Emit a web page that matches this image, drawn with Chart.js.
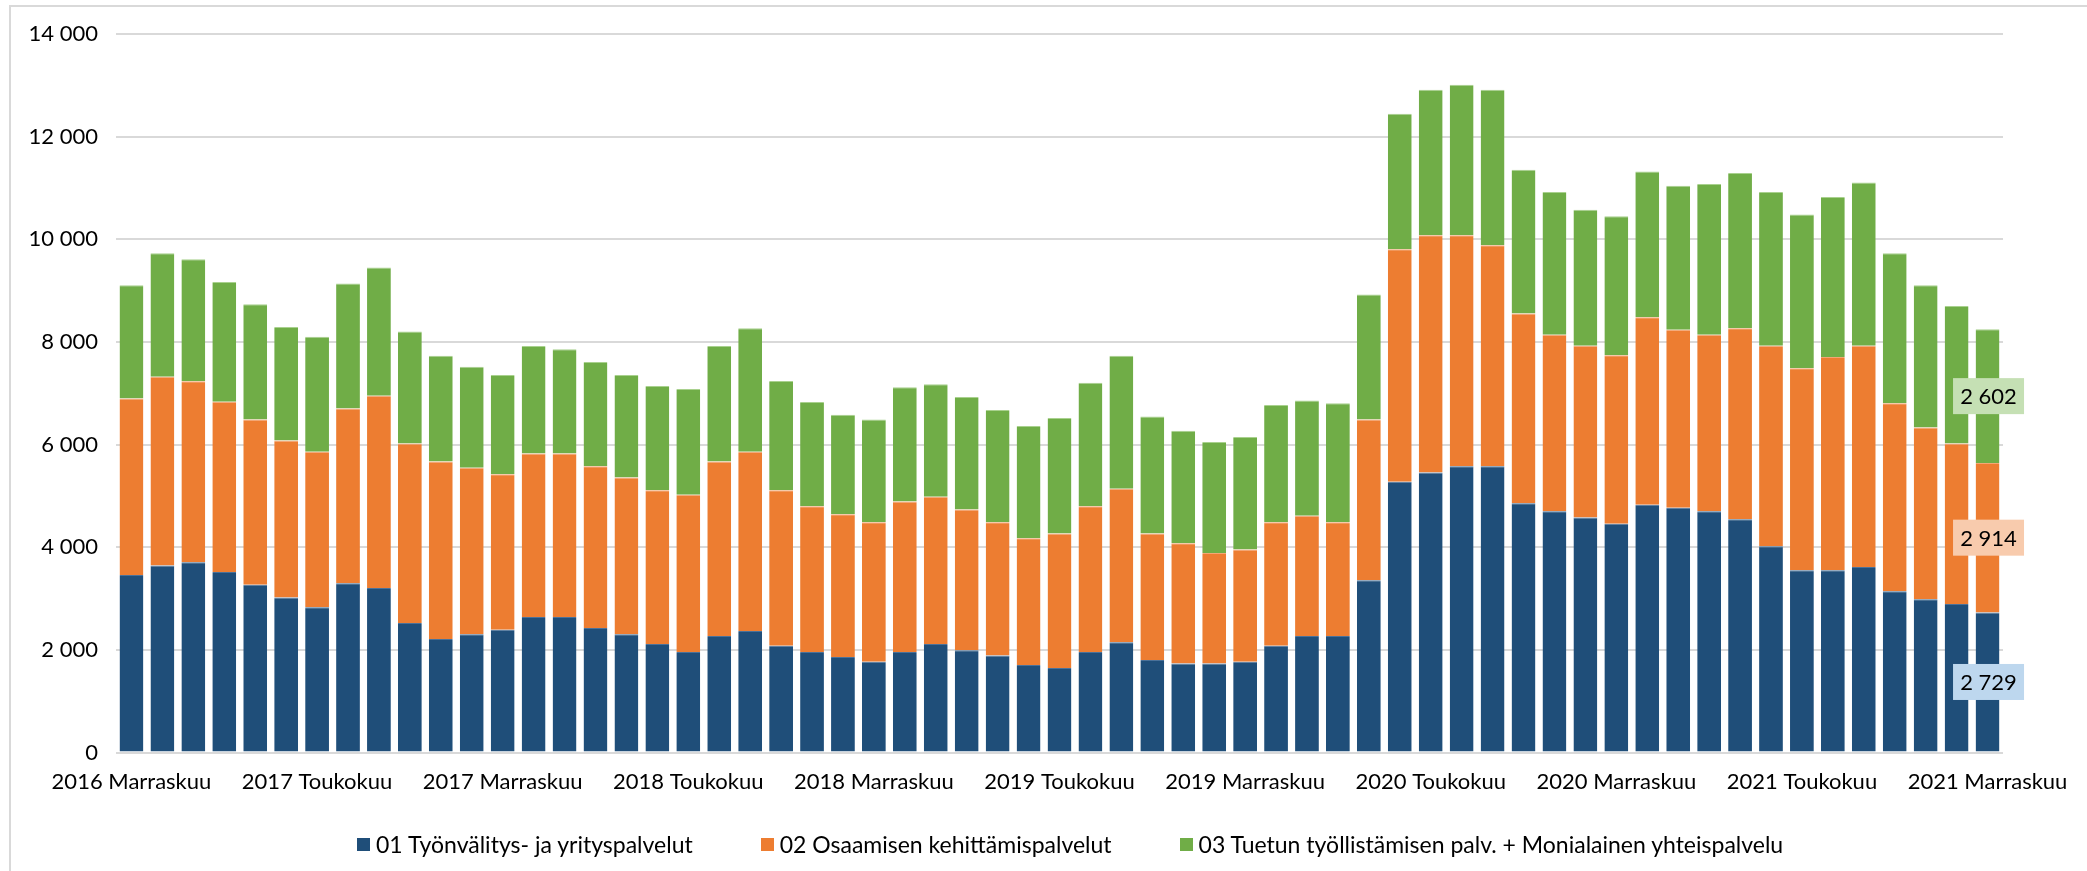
<!DOCTYPE html>
<html lang="fi">
<head>
<meta charset="utf-8">
<title>Palvelut kuukausittain</title>
<script src="https://cdn.jsdelivr.net/npm/chart.js"></script>
<style>
  html, body { margin: 0; padding: 0; background: #fff; overflow: hidden; }
  #wrap { position: relative; width: 2087px; height: 871px; }
  #frame { position: absolute; left: 9px; top: 5px; right: -10px; bottom: -10px;
           border-left: 2px solid #d9d9d9; border-top: 2px solid #d9d9d9; }
  #legend { position: absolute; left: 357px; top: 830px; display: flex; align-items: center;
            font-family: Lato, "Open Sans", sans-serif; font-size: 23px; color: #000; white-space: nowrap; }
  #legend .item { display: flex; align-items: center; margin-right: 68px; }
  #legend .box { width: 13px; height: 13px; margin-right: 6px; }
</style>
</head>
<body>
<div id="wrap">
  <div id="frame"></div>
  <canvas id="serviceChart"></canvas>
  <div id="legend"></div>
</div>
<script>
const monthNames = ["Tammikuu", "Helmikuu", "Maaliskuu", "Huhtikuu", "Toukokuu", "Kesäkuu",
  "Heinäkuu", "Elokuu", "Syyskuu", "Lokakuu", "Marraskuu", "Joulukuu"];

// 2016 Marraskuu ... 2021 Marraskuu
const labels = [];
for (let year = 2016; year <= 2021; year++) {
  monthNames.forEach((m, i) => {
    if ((year === 2016 && i < 10) || (year === 2021 && i > 10)) return;
    labels.push(year + " " + m);
  });
}

const seriesNames = [
  "01 Työnvälitys- ja yrityspalvelut",
  "02 Osaamisen kehittämispalvelut",
  "03 Tuetun työllistämisen palv. + Monialainen yhteispalvelu"
];

const tyonvalitys = [3460, 3642, 3707, 3518, 3271, 3018, 2829, 3297, 3206, 2523,
  2211, 2302, 2393, 2640, 2640, 2426, 2302, 2113, 1957, 2270,
  2367, 2081, 1957, 1860, 1769, 1957, 2113, 1990, 1892, 1704,
  1645, 1957, 2146, 1801, 1736, 1736, 1769, 2081, 2270, 2270,
  3356, 5274, 5456, 5580, 5580, 4858, 4702, 4578, 4455, 4825,
  4767, 4702, 4546, 4019, 3551, 3551, 3616, 3141, 2985, 2894, 2729];

const osaaminen = [3440, 3681, 3525, 3317, 3219, 3063, 3030, 3408, 3746, 3499,
  3460, 3245, 3031, 3187, 3187, 3154, 3057, 2999, 3064, 3401,
  3492, 3031, 2842, 2783, 2718, 2934, 2868, 2745, 2595, 2471,
  2622, 2842, 2991, 2466, 2342, 2153, 2185, 2406, 2341, 2217,
  3134, 4533, 4625, 4501, 4305, 3694, 3440, 3349, 3284, 3655,
  3472, 3440, 3720, 3908, 3935, 4155, 4311, 3662, 3349, 3128, 2914];

const tuettu = [2205, 2406, 2380, 2335, 2244, 2211, 2244, 2432, 2497, 2179,
  2061, 1971, 1931, 2094, 2029, 2029, 1996, 2029, 2061, 2250,
  2407, 2126, 2030, 1938, 2003, 2224, 2192, 2191, 2185, 2185,
  2249, 2407, 2595, 2282, 2191, 2159, 2192, 2283, 2250, 2316,
  2432, 2641, 2835, 2932, 3031, 2803, 2777, 2647, 2712, 2842,
  2804, 2933, 3024, 2992, 2997, 3116, 3180, 2926, 2771, 2679, 2602];

const yTicks = [0, 2000, 4000, 6000, 8000, 10000, 12000, 14000];

const barColors = ["#1f4e79", "#ed7d31", "#70ad47"];
const edgeColors = ["#4a7199", "#f4a674", "#a9d18e"];
const labelBoxColors = ["#bdd7ee", "#f8cbad", "#c5e0b4"];

const FONT = "Lato, 'Open Sans', sans-serif";

function fmt(v) {
  return String(v).replace(/\B(?=(\d{3})+(?!\d))/g, " ");
}

// arvolaatikot viimeiseen pylvääseen
const lastBarLabels = {
  id: "lastBarLabels",
  afterDatasetsDraw(chart) {
    const ctx = chart.ctx;
    ctx.save();
    ctx.font = "22px " + FONT;
    ctx.textAlign = "center";
    ctx.textBaseline = "middle";
    chart.data.datasets.forEach((ds, i) => {
      const meta = chart.getDatasetMeta(i);
      const bar = meta.data[meta.data.length - 1];
      const { x, y, base } = bar.getProps(["x", "y", "base"], true);
      const cy = (y + base) / 2;
      const w = 71, h = 36;
      ctx.fillStyle = labelBoxColors[i];
      ctx.fillRect(x - w / 2 + 1, cy - h / 2, w, h);
      ctx.fillStyle = "#000";
      ctx.fillText(fmt(ds.data[ds.data.length - 1]), x + 1, cy + 1);
    });
    ctx.restore();
  }
};

const datasets = [tyonvalitys, osaaminen, tuettu].map((data, i) => ({
  label: seriesNames[i],
  data: data,
  backgroundColor: barColors[i],
  borderColor: edgeColors[i],
  borderWidth: { top: 1, left: 0, right: 0, bottom: 0 },
  borderSkipped: "start",
  barPercentage: 0.77,
  categoryPercentage: 1.0
}));

const ctx = document.getElementById("serviceChart").getContext("2d");
const chart = new Chart(ctx, {
  type: "bar",
  data: { labels: labels, datasets: datasets },
  plugins: [lastBarLabels],
  options: {
    responsive: true,
    maintainAspectRatio: false,
    animation: false,
    layout: { padding: { top: 34, right: 84, bottom: 0, left: 0 } },
    plugins: {
      legend: { display: false },
      tooltip: { enabled: false }
    },
    scales: {
      x: {
        stacked: true,
        grid: { display: false, drawTicks: false },
        border: { display: false },
        ticks: {
          autoSkip: false,
          maxRotation: 0,
          minRotation: 0,
          padding: 16,
          color: "#000",
          font: { family: FONT, size: 22 },
          callback: function (value, index) {
            return index % 6 === 0 ? labels[index] : "";
          }
        },
        afterFit: function (scale) { scale.height = 118.5; }
      },
      y: {
        stacked: true,
        min: 0,
        max: 14000,
        grid: { color: "#d9d9d9", lineWidth: 2, drawTicks: false },
        border: { display: false },
        afterBuildTicks: function (scale) {
          scale.ticks = yTicks.map(v => ({ value: v }));
        },
        ticks: {
          padding: 18,
          color: "#000",
          font: { family: FONT, size: 22 },
          callback: function (value) { return fmt(value); }
        },
        afterFit: function (scale) { scale.width = 116; }
      }
    }
  }
});

// selite
const legendEl = document.getElementById("legend");
legendEl.innerHTML = chart.data.datasets
  .map(ds => `
    <div class="item">
      <span class="box" style="background:${ds.backgroundColor}"></span>
      <span>${ds.label}</span>
    </div>`)
  .join("");
</script>
</body>
</html>
